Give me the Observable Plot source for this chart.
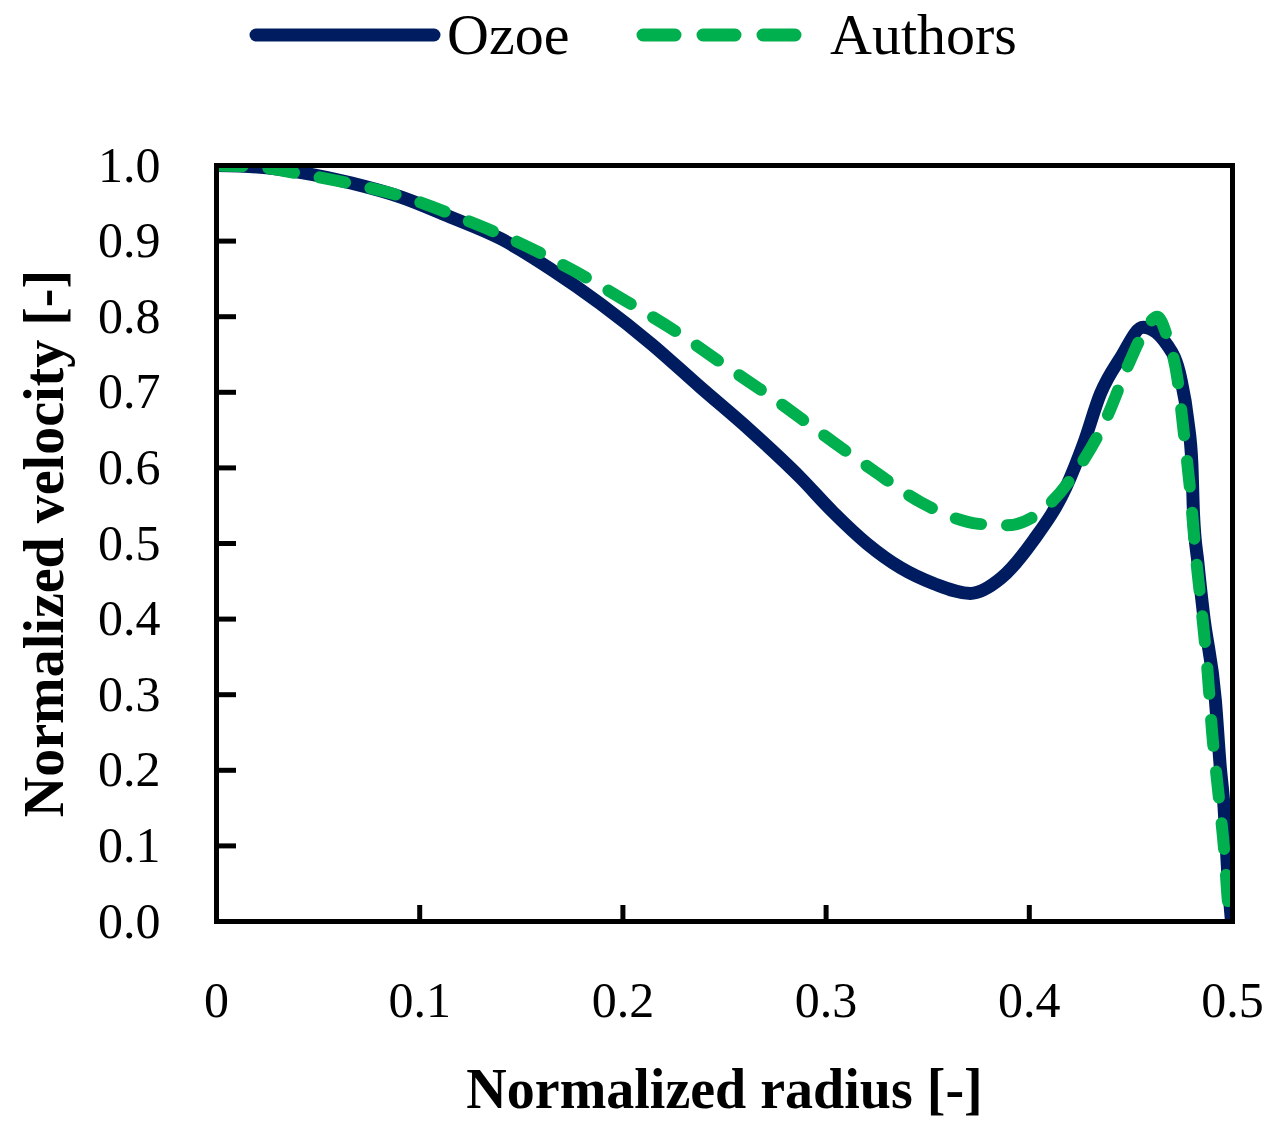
<!DOCTYPE html>
<html>
<head>
<meta charset="utf-8">
<script src="https://cdn.jsdelivr.net/npm/d3@7"></script>
<script src="https://cdn.jsdelivr.net/npm/@observablehq/plot@0.6"></script>
<style>
  html, body { margin: 0; padding: 0; background: #fff; }
  body { width: 1280px; height: 1129px; overflow: hidden; font-family: "Liberation Serif", serif; }
  #legend { position: relative; width: 1280px; height: 80px; }
  #legend .item { position: absolute; top: 0; height: 70px; }
  #legend span { position: absolute; font-size: 58px; line-height: 1; top: 6px; color: #000; white-space: nowrap; }
</style>
</head>
<body>
<div id="legend"></div>
<div id="chart"></div>
<script>
// Data
const ozoeRadius = [0, 0.02, 0.041, 0.066, 0.091, 0.115, 0.140, 0.165, 0.189, 0.214, 0.238, 0.2625, 0.2874, 0.3036, 0.320, 0.3366, 0.353, 0.371, 0.386, 0.402, 0.418, 0.4267, 0.435, 0.445, 0.456, 0.468, 0.4744, 0.478, 0.480, 0.4808, 0.483, 0.4857, 0.4916, 0.494, 0.4956, 0.498, 0.4995];
const ozoeVelocity = [1.0, 0.998, 0.991, 0.977, 0.958, 0.932, 0.903, 0.862, 0.817, 0.764, 0.707, 0.650, 0.587, 0.541, 0.500, 0.468, 0.447, 0.434, 0.454, 0.504, 0.574, 0.632, 0.698, 0.746, 0.786, 0.762, 0.720, 0.663, 0.606, 0.540, 0.474, 0.407, 0.292, 0.204, 0.160, 0.050, 0.0];

const authorsRadius = [0, 0.02, 0.041, 0.066, 0.094, 0.1216, 0.1496, 0.1757, 0.2013, 0.2269, 0.2505, 0.274, 0.299, 0.323, 0.347, 0.375, 0.389, 0.403, 0.4227, 0.4375, 0.449, 0.4565, 0.463, 0.468, 0.473, 0.476, 0.4793, 0.4818, 0.485, 0.4877, 0.490, 0.4931, 0.496, 0.498, 0.499];
const authorsVelocity = [1.0, 0.998, 0.989, 0.976, 0.957, 0.929, 0.897, 0.861, 0.821, 0.779, 0.735, 0.692, 0.643, 0.597, 0.554, 0.526, 0.524, 0.537, 0.594, 0.663, 0.738, 0.780, 0.800, 0.772, 0.716, 0.647, 0.566, 0.488, 0.407, 0.332, 0.249, 0.169, 0.091, 0.019, 0.0];

const xTicks = [0, 0.1, 0.2, 0.3, 0.4, 0.5];
const xTickLabels = ["0", "0.1", "0.2", "0.3", "0.4", "0.5"];
const yTicks = [0, 0.1, 0.2, 0.3, 0.4, 0.5, 0.6, 0.7, 0.8, 0.9, 1.0];
const yTickLabels = ["0.0", "0.1", "0.2", "0.3", "0.4", "0.5", "0.6", "0.7", "0.8", "0.9", "1.0"];

const seriesNames = ["Ozoe", "Authors"];
const seriesColors = ["#001C60", "#00B04F"];
const xTitle = "Normalized radius [-]";
const yTitle = "Normalized velocity [-]";

const ozoe = ozoeRadius.map((r, i) => ({r, v: ozoeVelocity[i]}));
const authors = authorsRadius.map((r, i) => ({r, v: authorsVelocity[i]}));

// Legend
const legend = document.getElementById("legend");
legend.innerHTML = `
  <svg class="item" style="left:240px" width="210" height="70"><line x1="16" y1="35" x2="194" y2="35" stroke="${seriesColors[0]}" stroke-width="13" stroke-linecap="round"/></svg>
  <span style="left:447px">${seriesNames[0]}</span>
  <svg class="item" style="left:625px" width="200" height="70"><line x1="18" y1="35" x2="176" y2="35" stroke="${seriesColors[1]}" stroke-width="13" stroke-linecap="round" stroke-dasharray="32 28"/></svg>
  <span style="left:830px">${seriesNames[1]}</span>
`;

const W = 1280, H = 1049;
const font = "Liberation Serif";

const chart = Plot.plot({
  width: W,
  height: H,
  marginLeft: 216,
  marginRight: 48,
  marginTop: 85,
  marginBottom: 208,
  style: {fontFamily: font, background: "white", color: "black", overflow: "visible"},
  x: {domain: [0, 0.5]},
  y: {domain: [0, 1]},
  marks: [
    // tick marks (inward)
    Plot.axisX({ticks: xTicks, tickSize: 16, dy: -16, tickFormat: () => "", strokeWidth: 5, label: null}),
    Plot.axisY({ticks: yTicks, tickSize: 20, dx: 20, tickFormat: () => "", strokeWidth: 5, label: null}),
    // tick labels
    Plot.axisX({ticks: xTicks, tickSize: 0, tickPadding: 60, tickFormat: (d) => xTickLabels[xTicks.findIndex(t => Math.abs(t - d) < 1e-9)], fontSize: 50, label: null}),
    Plot.axisY({ticks: yTicks, tickSize: 0, tickPadding: 56, tickFormat: (d) => yTickLabels[yTicks.findIndex(t => Math.abs(t - d) < 1e-9)], fontSize: 50, label: null}),
    Plot.line(ozoe, {x: "r", y: "v", stroke: seriesColors[0], strokeWidth: 13, curve: "monotone-x", strokeLinejoin: "round", strokeLinecap: "round", clip: true}),
    Plot.line(authors, {x: "r", y: "v", stroke: seriesColors[1], strokeWidth: 12, curve: "monotone-x", strokeDasharray: "26 26", strokeLinecap: "round", strokeLinejoin: "round", clip: true}),
    Plot.frame({stroke: "black", strokeWidth: 5}),
    Plot.text([xTitle], {frameAnchor: "bottom", dy: 169, text: d => d, fontSize: 56, fontWeight: "bold", fill: "black", textAnchor: "middle", lineAnchor: "middle"}),
    Plot.text([yTitle], {frameAnchor: "left", dx: -171, rotate: -90, text: d => d, fontSize: 56, fontWeight: "bold", fill: "black", textAnchor: "middle", lineAnchor: "middle"})
  ]
});
document.getElementById("chart").appendChild(chart);
</script>
</body>
</html>
